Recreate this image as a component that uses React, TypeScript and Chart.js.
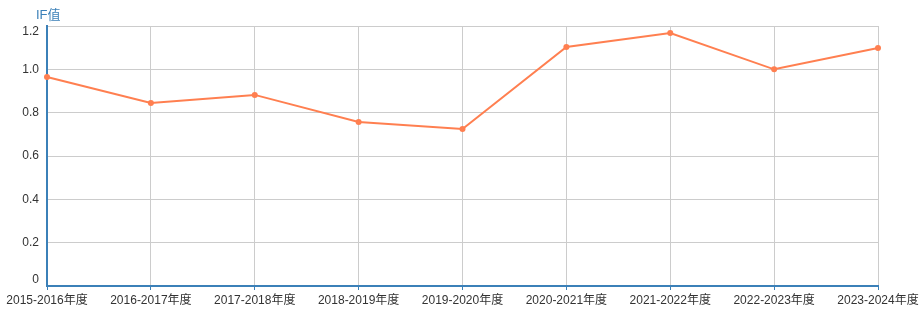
import React, { useEffect, useRef } from "react";
import { Chart, registerables } from "chart.js";

Chart.register(...registerables);

const categories = [
  "2015-2016年度",
  "2016-2017年度",
  "2017-2018年度",
  "2018-2019年度",
  "2019-2020年度",
  "2020-2021年度",
  "2021-2022年度",
  "2022-2023年度",
  "2023-2024年度",
];
const ifValues = [0.965, 0.845, 0.882, 0.757, 0.725, 1.103, 1.168, 1.0, 1.098];
const yTicks = [0, 0.2, 0.4, 0.6, 0.8, 1.0, 1.2];
const yTitle = "IF值";

const FONT = '"Liberation Sans", "Noto Sans CJK SC", sans-serif';
const AXIS_BLUE = "#3b80b8";

const overlay = {
  id: "overlay",
  afterDraw(chart: any) {
    const ctx = chart.ctx;
    const y = chart.scales.y;
    ctx.save();
    ctx.font = `12px ${FONT}`;
    ctx.fillStyle = "#333";
    ctx.textAlign = "right";
    ctx.textBaseline = "middle";
    const n = yTicks.length;
    yTicks.forEach((v, i) => {
      let py = y.getPixelForValue(v);
      if (i === 0) py -= 6;
      if (i === n - 1) py += 6;
      const label = v === 0 ? "0" : v.toFixed(1);
      ctx.fillText(label, chart.chartArea.left - 8, py);
    });
    ctx.font = `13px ${FONT}`;
    ctx.fillStyle = "#3b80b8";
    ctx.textAlign = "left";
    ctx.textBaseline = "alphabetic";
    ctx.fillText(yTitle, 36, 19);
    ctx.restore();
  },
};

export default function App() {
  const ref = useRef<HTMLCanvasElement>(null);
  useEffect(() => {
    if (!ref.current) return;
    const chart = new Chart(ref.current, {
      type: "line",
      data: {
        labels: categories,
        datasets: [
          {
            data: ifValues,
            borderColor: "#ff7f50",
            backgroundColor: "#ff7f50",
            borderWidth: 2,
            pointRadius: 3,
            pointBorderWidth: 0,
            pointBackgroundColor: "#ff7f50",
            tension: 0,
          },
        ],
      },
      plugins: [overlay],
      options: {
        animation: false,
        responsive: false,
        maintainAspectRatio: false,
        layout: { padding: { top: 26, right: 46, bottom: 0, left: 0 } },
        plugins: { legend: { display: false }, tooltip: { enabled: false } },
        scales: {
          x: {
            offset: false,
            grid: { color: "#cccccc", lineWidth: 1, tickLength: 4, tickColor: AXIS_BLUE },
            border: { color: AXIS_BLUE, width: 2 },
            ticks: {
              color: "#333",
              font: { size: 12, family: FONT },
              padding: 3,
              maxRotation: 0,
              autoSkip: false,
            },
            afterFit(scale: any) {
              scale.height = 49;
            },
          },
          y: {
            min: 0,
            max: 1.2,
            grid: { color: "#cccccc", lineWidth: 1, drawTicks: false },
            border: { color: AXIS_BLUE, width: 2 },
            ticks: {
              stepSize: 0.2,
              display: false,
            },
            afterFit(scale: any) {
              scale.width = 47;
            },
          },
        },
      },
    });
    return () => chart.destroy();
  }, []);
  return (
    <div style={{ position: "absolute", left: 0, top: 0, width: 924, height: 335 }}>
      <canvas ref={ref} width={924} height={335} style={{ width: 924, height: 335 }} />
    </div>
  );
}
